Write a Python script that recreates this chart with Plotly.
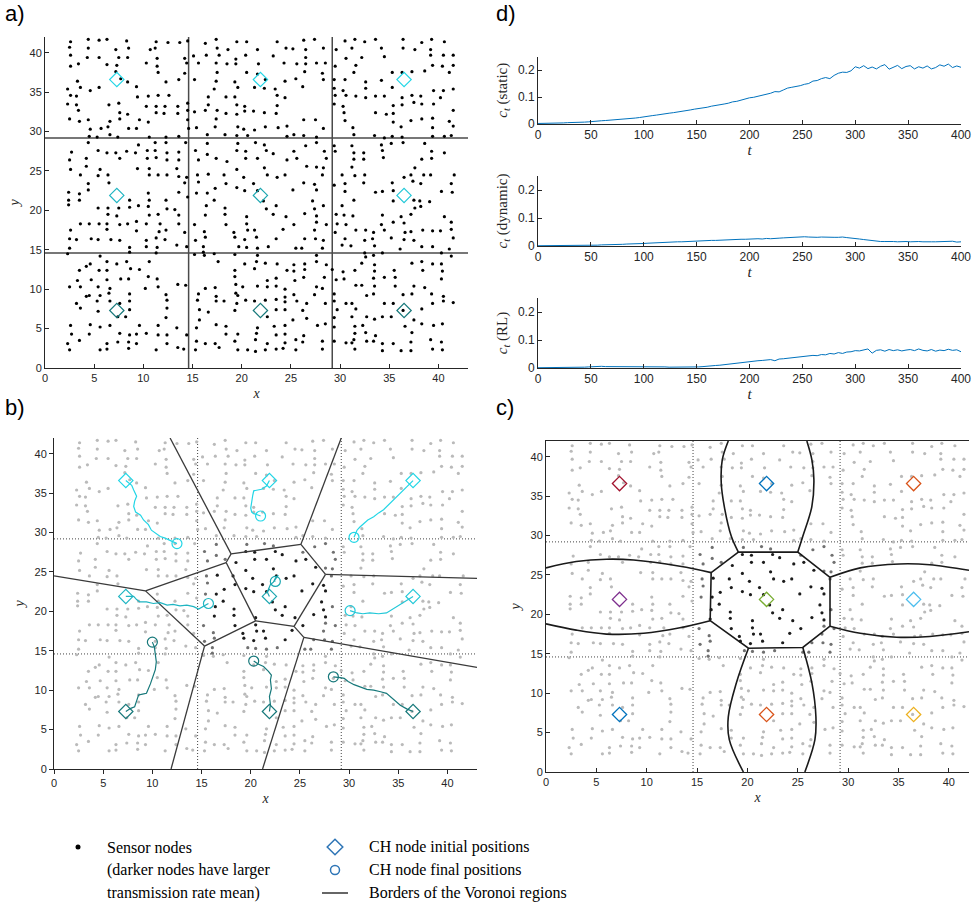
import plotly.graph_objects as go

# ---------------- data ----------------
nodes = [
(2.6,41.4),(2.5,40.7),(4.4,41.7),(4.4,40.6),(5.5,41.6),(6.3,41.7),(8.3,41.5),(8.5,40.6),(7.2,40.4),(10.7,40.4),(11.2,40.6),(11.3,41.4),(12.5,41.3),(13.7,41.3),(14.5,41.5),
(2.6,39.7),(4.3,39.4),(5.5,39.4),(7.5,39.4),(8.4,39.4),(14.2,39.3),(14.4,38.7),(3.4,38.6),(2.6,38.3),(6.3,38.5),(7.3,38.4),(10.3,38.7),(11.4,39.3),(11.4,38.3),
(7.2,37.6),(11.5,37.5),(14.2,37.4),(7.7,36.7),(8.4,36.3),(12.3,36.3),(13.6,36.6),(3.3,36.4),
(2.3,35.4),(3.6,35.6),(4.6,35.2),(5.5,35.6),(2.6,34.6),(3.2,34.5),(9.3,35.7),(9.4,34.4),(10.5,34.5),(11.5,34.6),(12.6,34.6),
(2.3,33.5),(3.2,33.4),(6.5,33.4),(7.5,33.6),(3.4,32.7),(7.6,32.4),(8.4,32.2),(10.3,33.2),(11.3,33.2),(12.2,33.2),(13.5,33.2),(14.5,33.6),(11.3,32.4),(12.1,32.3),(13.5,32.3),(14.5,32.7),
(2.5,31.6),(3.5,31.3),(4.4,31.5),(6.6,31.3),(7.6,31.6),(9.6,31.5),(10.5,31.2),(6.4,30.6),(4.6,30.3),(5.7,30.4),(8.5,30.4),(9.3,30.4),(14.5,31.5),(14.6,30.4),
(4.5,29.4),(5.3,29.3),(6.6,29.6),(7.4,29.3),(10.6,29.3),(12.3,29.3),(13.6,29.4),
(4.4,28.6),(9.5,28.3),(11.2,28.6),(12.3,28.6),(14.3,28.6),(2.7,27.4),(5.4,27.6),(6.3,27.3),(7.2,27.3),(8.3,27.5),(9.2,27.3),(10.4,27.6),(11.2,27.6),(12.4,27.3),(13.6,27.4),
(2.5,26.4),(4.2,26.6),(7.6,26.6),(10.4,26.6),(11.3,26.7),(12.4,26.4),(13.6,26.4),
(2.6,25.2),(4.2,25.6),(5.6,25.2),(9.4,25.3),(10.6,25.3),(13.4,25.3),(3.6,24.5),(5.4,24.4),(6.4,24.5),(10.6,24.5),(11.5,24.5),(12.4,24.5),(13.6,24.3),(14.4,24.2),
(6.5,23.5),(4.4,23.4),(14.2,23.5),(4.4,22.6),(2.4,22.3),(3.5,22.1),(10.5,22.2),(13.6,22.3),(14.5,21.7),
(16.3,41.2),(17.4,41.7),(17.5,40.6),(18.6,40.4),(19.5,41.4),(20.5,41.4),(15.1,39.6),(16.4,39.7),(17.7,39.7),(15.6,38.7),(17.4,38.7),(18.5,38.6),(19.4,39.2),(19.4,38.6),(20.4,39.7),(20.5,37.5),
(15.2,36.6),(17.4,36.4),(17.5,37.5),(19.3,36.3),(19.6,35.6),(17.2,35.4),(16.6,34.4),(18.4,34.4),(19.3,34.4),(16.6,33.4),(15.2,32.5),(16.3,32.7),(17.5,32.7),(18.4,32.3),(19.5,32.2),(20.3,33.2),(20.3,32.6),(19.5,33.4),
(17.4,31.6),(15.4,30.5),(17.3,30.6),(19.6,30.6),(20.2,30.3),(16.5,29.6),(18.3,29.6),(19.5,29.5),(20.6,29.5),
(16.5,28.5),(19.6,28.5),(15.3,27.6),(16.5,27.1),(17.4,26.6),(18.5,26.2),(19.5,27.6),(20.4,27.5),(20.4,26.6),(15.6,26.4),(19.5,25.2),(15.5,24.5),(16.6,24.6),(18.2,24.5),(18.4,23.4),(20.2,24.2),(15.6,23.6),(17.3,22.8),(15.4,22.2),(16.5,22.2),(19.5,22.9),(20.3,22.5),
(23.6,41.4),(26.3,41.6),(27.4,41.7),(21.6,40.4),(24.5,40.6),(25.2,40.5),(26.5,40.4),(28.3,40.6),(23.2,39.6),(26.5,39.4),(21.7,38.6),(24.3,38.7),(25.6,38.6),(26.5,38.6),(27.6,38.7),(28.5,38.7),(26.4,37.6),(28.2,37.4),(21.6,37.3),(22.4,36.6),(24.4,36.4),(25.5,36.7),(28.3,36.6),(21.3,35.6),(22.3,35.5),(23.4,35.4),(26.2,35.7),(23.6,34.6),(24.4,34.3),(23.6,33.3),(21.2,32.6),(22.3,32.4),(23.5,32.3),(26.3,31.5),(27.5,31.5),(22.4,30.6),(23.7,30.5),(24.6,30.7),(21.3,30.2),(28.3,30.4),(24.6,29.4),(25.3,29.6),(26.3,29.5),(27.6,29.3),
(30.5,41.5),(31.5,41.7),(32.5,41.4),(33.6,41.7),(36.4,41.7),(38.3,41.3),(39.3,41.7),(40.6,41.4),(29.6,40.4),(31.2,40.6),(34.2,40.6),(36.4,40.6),(37.6,40.4),(39.2,40.4),(30.6,39.3),(32.2,39.4),(34.5,39.5),(39.2,39.7),(40.5,39.7),(41.5,39.7),(31.6,38.4),(29.5,38.3),(39.4,38.4),(40.4,38.3),(41.5,38.4),(31.4,37.5),(35.3,37.5),(36.3,37.5),(37.3,37.6),(38.6,37.7),(41.1,37.5),(29.4,36.6),(30.5,36.6),(32.6,36.3),(34.2,36.5),(32.6,35.5),(30.3,35.2),(29.4,35.5),(35.3,35.6),(39.5,35.2),(40.5,35.2),(41.5,35.4),(29.5,34.6),(30.6,34.6),(31.6,34.5),(32.6,34.3),(33.6,34.5),(34.5,34.5),(36.3,34.3),(37.3,34.6),(38.2,34.5),(40.2,34.3),(29.4,33.5),(30.3,33.2),(35.4,33.3),(36.3,33.4),(37.5,33.7),(38.3,33.5),(39.5,33.5),(30.4,32.4),(33.6,32.4),(34.7,32.2),(35.4,32.3),(41.5,32.7),(30.5,31.4),(35.4,31.2),(37.2,31.4),(38.3,31.6),(39.4,31.7),(41.1,31.3),(31.3,30.5),(36.2,30.6),(39.4,30.5),(41.5,30.7),(31.4,29.6),(33.5,29.5),(34.5,29.2),(35.3,29.4),(36.3,29.3),(39.4,29.4),(40.6,29.4),(41.3,29.5),
(21.4,28.6),(22.3,28.3),(22.5,27.6),(23.2,27.2),(26.5,28.2),(27.6,28.6),(25.3,27.5),(28.4,27.5),(21.6,26.6),(24.6,26.4),(25.6,26.6),(28.6,26.6),(22.3,25.4),(26.6,25.6),(27.6,25.5),(28.3,25.4),(22.6,24.5),(23.6,24.2),(24.4,24.5),(28.2,24.5),(21.2,23.4),(26.3,23.5),(27.4,23.3),(25.2,22.6),(27.6,22.6),(21.6,22.5),
(29.4,28.2),(31.2,28.2),(31.4,27.3),(32.4,27.3),(34.2,28.3),(34.3,27.6),(35.2,28.5),(36.4,28.6),(38.6,28.5),(29.5,27.5),(31.4,26.5),(32.4,26.5),(34.4,26.7),(39.3,27.5),(40.6,27.3),(38.3,26.5),(39.3,26.6),(31.2,25.5),(37.6,25.4),(30.2,24.5),(31.5,24.4),(32.5,24.5),(36.5,24.2),(37.2,24.5),(38.5,24.5),(39.2,24.5),(41.6,24.5),(29.4,23.2),(30.5,23.4),(32.4,23.5),(35.3,23.5),(37.4,23.7),(38.2,23.4),(41.3,23.4),(30.5,22.4),(33.6,22.3),(34.3,22.4),(35.4,22.5),(40.3,22.4),(41.4,22.3),
(2.4,21.3),(3.5,21.3),(8.6,21.3),(10.6,21.3),(12.3,21.3),(2.4,20.7),(5.4,20.3),(6.4,20.3),(7.5,20.3),(8.6,20.4),(9.5,20.6),(10.5,20.5),(11.5,19.5),(12.4,20.2),(13.2,20.1),(13.6,19.4),(6.4,19.5),(7.3,19.3),(10.6,19.4),
(2.6,17.5),(3.6,18.3),(4.5,18.3),(5.5,18.3),(6.3,18.3),(7.6,18.2),(8.4,18.3),(9.3,18.6),(9.3,17.4),(10.3,18.3),(11.7,18.3),(13.6,18.3),(14.2,17.2),(6.3,17.6),(11.6,17.3),(12.3,17.5),
(2.5,16.4),(3.2,16.3),(4.7,16.4),(5.4,16.3),(6.7,16.3),(7.6,16.2),(10.3,16.2),(11.3,16.5),(12.2,16.3),(10.3,15.4),(11.4,15.3),(13.4,15.6),(14.4,15.4),(2.5,15.2),(2.3,14.5),(8.6,15.3),(8.6,14.7),(11.3,14.6),
(16.4,20.6),(16.3,19.4),(17.2,21.3),(18.3,20.3),(18.3,19.5),(18.4,18.2),(19.2,17.2),(19.3,16.6),(20.5,19.2),(20.5,18.3),(20.6,17.5),(20.3,16.3),(19.7,15.4),(20.5,15.3),(15.2,18.2),(16.2,17.3),(16.3,16.6),(15.3,16.2),(16.1,15.4),(16.1,14.7),
(17.2,14.5),(15.2,14.4),(16.2,14.3),(17.6,13.5),(19.3,14.4),(20.3,13.2),(19.3,12.4),(19.3,11.6),(19.4,10.6),(19.4,9.5),(19.6,9.2),(20.1,10.3),(16.3,10.1),(17.3,10.2),(17.4,9.1),(17.4,8.5),(15.6,9.4),(15.5,8.6),(15.7,7.4),(15.7,6.1),(16.6,7.1),(18.2,8.5),(19.3,7.3),(19.5,8.2),(20.4,8.6),
(15.4,5.1),(17.4,5.5),(18.4,5.3),(18.4,4.3),(15.4,3.4),(16.3,3.1),(17.7,2.6),(17.3,3.1),(19.3,3.4),(19.6,4.3),(19.6,2.3),(20.6,2.3),(15.3,2.3),
(5.6,14.2),(4.6,13.2),(6.3,13.5),(7.3,13.2),(8.3,13.5),(8.7,12.6),(10.6,13.5),(3.5,12.4),(4.2,12.9),(5.5,12.4),(6.3,12.4),(9.6,12.5),(10.5,11.6),(11.4,11.3),(3.3,11.1),(4.7,11.2),(6.3,11.2),(7.7,11.3),(8.5,11.3),
(2.5,10.3),(3.6,10.3),(5.4,10.3),(6.6,10.1),(6.5,9.5),(4.5,9.2),(5.6,9.2),(8.6,9.4),(10.2,10.1),(11.5,10.3),(12.3,9.3),(13.5,10.6),(14.3,10.5),(4.2,9.1),(3.2,8.2),(3.6,7.6),(5.3,8.5),(5.4,7.2),(6.6,8.5),(7.6,8.2),(8.6,8.5),(8.6,7.4),(8.2,6.5),(7.4,6.5),(12.4,8.6),(12.4,7.6),(12.3,6.4),
(2.6,5.4),(2.7,4.3),(4.6,5.5),(4.5,4.3),(5.6,5.2),(6.6,5.4),(7.6,4.4),(8.6,4.2),(9.3,4.3),(9.6,5.4),(10.3,4.4),(11.5,5.4),(11.5,4.2),(12.4,4.2),(13.4,5.1),(14.4,4.2),
(2.3,3.1),(2.5,2.3),(3.5,3.5),(5.6,2.3),(6.3,2.4),(6.3,3.1),(7.4,3.3),(8.5,2.5),(8.5,3.3),(9.3,3.1),(11.3,2.3),(12.4,3.1),(13.5,2.6),(14.1,2.4),
(22.2,21.2),(23.5,20.6),(22.5,20.2),(23.2,19.5),(24.5,19.2),(25.3,18.2),(26.4,19.6),(27.2,21.2),(27.4,20.2),(27.6,19.3),(27.6,18.5),(28.6,18.2),(28.3,20.6),(21.3,17.5),(21.5,16.6),(23.5,16.4),(24.2,17.6),(21.6,15.2),(22.7,15.4),(25.5,15.2),(26.1,15.2),(26.4,16.4),(27.4,17.5),(27.5,16.4),(28.3,16.2),(28.2,15.2),
(29.6,19.5),(30.4,19.4),(31.3,19.3),(30.2,20.6),(31.4,21.3),(29.7,18.3),(30.6,18.2),(29.5,17.2),(30.5,16.4),(31.6,17.5),(32.6,17.5),(33.4,17.2),(32.5,16.2),(33.3,16.4),(30.2,15.6),(31.1,15.5),(33.5,15.5),(34.3,19.4),(34.2,18.2),(34.5,17.5),(35.4,18.5),(36.2,19.2),(36.5,18.4),(37.2,19.5),(37.6,20.3),(38.2,20.5),(35.4,21.2),(37.5,21.3),(38.1,21.2),(40.6,19.2),(41.3,18.5),(41.3,17.6),(41.5,16.5),(39.1,21.1),(38.4,17.5),(39.4,17.4),(40.2,17.4),(35.2,16.5),(36.6,17.2),(37.2,17.3),(36.5,16.3),(37.5,16.2),(36.1,15.1),(38.3,15.4),(39.4,15.4),(41.1,15.1),(41.3,14.2),(32.5,14.6),(34.3,14.6),(40.3,14.6),
(21.6,14.3),(21.5,13.5),(22.4,13.3),(23.6,13.2),(25.3,13.1),(26.4,13.2),(27.6,14.3),(27.6,13.5),(28.6,13.1),(21.3,12.6),(24.6,12.4),(25.3,12.3),(26.4,12.5),(28.4,11.5),(29.2,12.5),(22.6,11.1),(23.5,11.4),(25.4,11.1),(26.3,11.5),(21.6,10.4),(22.6,10.3),(23.5,10.4),(24.4,10.0),(27.6,10.3),(28.2,10.1),
(21.3,8.5),(22.4,8.6),(23.5,8.7),(24.4,9.0),(24.4,8.4),(25.3,9.3),(25.6,8.5),(27.4,9.3),(26.6,8.2),(28.5,8.2),(23.5,7.4),(24.4,7.4),(26.2,7.3),(22.6,6.5),(25.2,6.1),(26.6,6.3),(21.6,5.1),(23.3,5.3),(24.4,5.4),(27.7,5.4),(28.5,5.6),(21.5,4.4),(23.5,4.2),(24.4,4.3),(26.3,4.1),(21.4,3.6),(22.6,3.1),(24.4,3.2),(25.5,3.6),(26.2,3.3),(28.2,3.4),(28.2,2.4),(21.4,2.1),(22.4,2.3),(23.5,2.4),(24.2,2.5),(25.5,2.3),
(29.6,11.2),(29.4,9.4),(29.4,8.5),(29.7,7.4),(30.4,11.3),(30.3,12.2),(31.5,12.4),(32.2,13.3),(32.6,14.1),(33.4,14.3),(33.5,13.1),(33.5,12.3),(33.4,11.4),(33.5,10.4),(33.4,9.4),(32.7,9.2),(32.2,10.5),(31.6,10.5),(30.6,8.2),(31.2,8.2),(31.6,7.5),(31.2,6.5),(32.7,6.5),(33.5,6.2),(34.3,6.5),(35.2,6.5),(34.5,8.2),(35.4,8.2),(34.5,11.5),(35.5,12.4),(35.6,11.5),(35.6,10.4),(36.4,9.3),
(37.3,13.3),(38.3,13.5),(38.4,12.4),(39.4,13.2),(40.3,13.2),(40.4,12.3),(40.3,11.3),(40.5,9.1),(40.5,8.5),(39.3,9.4),(39.4,8.2),(38.3,7.5),(37.5,10.4),(37.3,9.4),(38.6,10.2),(36.4,7.3),(36.6,5.3),(37.3,4.5),(37.5,6.1),(38.3,5.6),(39.5,5.4),(40.4,5.6),
(32.3,5.4),(31.5,5.3),(31.5,4.4),(32.6,4.5),(33.6,4.1),(31.4,3.6),(30.6,3.2),(31.2,3.2),(32.7,3.4),(33.4,3.4),(34.3,3.1),(35.4,3.1),(37.2,3.3),(39.2,3.6),(40.3,3.3),(29.4,5.2),(29.4,3.4),(31.5,2.4),(34.3,2.2),(36.2,2.2),(37.2,2.2),(39.4,2.4),(40.4,2.3),(41.5,8.3),(29.4,6.4),
]
node_x = [p[0] for p in nodes]
node_y = [p[1] for p in nodes]

region_borders = [14.6, 29.2]
ch_x = [7.3, 21.9, 36.5, 7.3, 21.9, 36.5, 7.3, 21.9, 36.5]
ch_y = [36.6, 36.6, 36.6, 21.9, 21.9, 21.9, 7.3, 7.3, 7.3]
ch_colors_ab = ["#22d6e6", "#22d6e6", "#22d6e6", "#1fb5c2", "#1aa6b0", "#22c8d8", "#16787a", "#16787a", "#16787a"]
ch_colors_c = ["#A2142F", "#0072BD", "#D95319", "#7E2F8E", "#77AC30", "#4DBEEE", "#0072BD", "#D95319", "#EDB120"]

traj_x = [
    [7.3, 7.9, 8.1, 8.4, 8.2, 8.1, 8.3, 8.8, 9.1, 9.6, 9.9, 10.4, 10.8, 11.3, 11.6, 12.5],
    [21.9, 21.6, 21.1, 20.6, 20.3, 20.2, 20.1, 20.0, 20.1, 20.3, 20.6, 21.0],
    [36.5, 36.0, 35.5, 35.0, 34.5, 34.1, 33.5, 33.0, 32.5, 31.9, 31.5, 31.1, 30.8, 30.5],
    [7.3, 8.1, 8.4, 8.7, 9.4, 10.1, 10.8, 11.5, 12.1, 12.8, 13.5, 14.2, 14.7, 15.2, 15.7],
    [21.9, 21.7, 21.8, 22.0, 22.3, 22.5, 22.8, 22.6, 22.4, 22.5],
    [36.5, 36.0, 35.5, 35.0, 34.5, 33.8, 33.0, 32.1, 31.4, 30.8, 30.1],
    [7.3, 7.8, 8.2, 8.4, 8.6, 9.0, 9.4, 9.8, 10.3, 10.4, 10.3, 10.2, 10.0],
    [21.9, 22.0, 21.9, 22.1, 22.0, 22.1, 21.8, 21.5, 21.3, 20.8, 20.3],
    [36.5, 35.9, 35.2, 34.5, 33.8, 33.2, 32.5, 31.8, 31.1, 30.5, 29.9, 29.5, 29.1, 28.4],
]
traj_y = [
    [36.6, 36.0, 35.4, 34.6, 34.0, 33.3, 32.6, 32.2, 31.6, 31.0, 30.3, 29.9, 29.5, 29.3, 29.1, 28.6],
    [36.6, 35.9, 35.5, 35.4, 35.3, 34.7, 34.1, 33.1, 32.6, 32.4, 32.3, 32.1],
    [36.6, 36.0, 35.4, 34.8, 34.1, 33.6, 32.9, 32.5, 32.0, 31.6, 31.2, 30.7, 30.3, 29.4],
    [21.9, 21.9, 21.5, 21.2, 21.2, 21.0, 21.1, 20.8, 20.9, 20.7, 20.8, 20.6, 20.3, 20.6, 21.0],
    [21.9, 22.4, 22.8, 23.4, 23.7, 24.2, 24.6, 24.3, 23.9, 23.8],
    [21.9, 21.5, 21.2, 20.8, 20.4, 19.8, 19.7, 19.8, 19.7, 19.8, 20.1],
    [7.3, 7.7, 7.9, 8.8, 9.4, 9.5, 9.6, 10.8, 12.6, 13.6, 14.7, 15.5, 16.1],
    [7.3, 8.2, 9.2, 10.2, 11.3, 11.9, 12.4, 12.7, 13.0, 13.3, 13.7],
    [7.3, 7.6, 8.1, 8.8, 9.6, 9.8, 10.0, 10.1, 10.4, 10.7, 11.1, 11.5, 11.6, 11.7],
]

voronoi_b = [
    [11.8, 42.0, 18.0, 27.3], [18.0, 27.3, 25.1, 28.5], [25.1, 28.5, 29.2, 42.0],
    [25.1, 28.5, 27.6, 24.7], [27.6, 24.7, 43.0, 24.2], [27.6, 24.7, 24.4, 18.1],
    [24.4, 18.1, 25.4, 16.7], [25.4, 16.7, 43.0, 12.9], [25.4, 16.7, 21.2, 0.0],
    [24.4, 18.1, 20.5, 18.8], [20.5, 18.8, 17.5, 26.2], [17.5, 26.2, 18.0, 27.3],
    [17.5, 26.2, 9.3, 22.6], [9.3, 22.6, 0.0, 24.5], [9.3, 22.6, 15.3, 15.6],
    [15.3, 15.6, 20.5, 18.8], [15.3, 15.6, 11.9, 0.0],
]

octagon_x = [19.1, 25.0, 28.2, 28.2, 25.5, 20.1, 16.3, 16.4, 19.1]
octagon_y = [27.9, 27.9, 24.7, 18.5, 15.8, 15.7, 19.2, 25.3, 27.9]
curves_x = [
    [19.1, 18.4, 17.7, 17.4, 17.5, 18.1],
    [25.0, 25.5, 26.4, 26.6, 26.4, 25.9],
    [20.1, 18.9, 18.1, 18.2, 19.6],
    [25.5, 26.4, 26.8, 26.7, 25.7],
    [16.4, 13.3, 8.7, 6.0, 3.0, 0.0],
    [16.3, 13.3, 9.7, 6.0, 3.0, 0.0],
    [28.2, 31.2, 35.1, 38.1, 42.0],
    [28.2, 31.2, 34.8, 38.1, 42.0],
]
curves_y = [
    [27.9, 29.9, 33.7, 36.7, 39.6, 42.0],
    [27.9, 29.9, 33.7, 37.1, 39.6, 42.0],
    [15.7, 11.3, 7.0, 4.1, 0.0],
    [15.8, 11.3, 7.0, 4.1, 0.0],
    [25.3, 26.1, 26.9, 27.0, 26.7, 25.9],
    [19.2, 18.3, 17.6, 17.5, 18.0, 18.8],
    [24.7, 25.9, 26.4, 26.3, 25.6],
    [18.5, 17.6, 17.1, 17.2, 17.8],
]

t_values = list(range(0, 401, 4))
c_static = [
    .002, .002, .003, .003, .003, .004, .004, .005, .005, .006, .007, .007, .008, .010, .010, .012, .013, .014, .015, .016,
    .018, .019, .020, .022, .024, .027, .028, .031, .033, .036, .037, .040, .042, .044, .046, .049, .052, .055, .057, .059,
    .062, .066, .068, .070, .074, .077, .082, .084, .088, .094, .097, .099, .103, .105, .110, .114, .120, .119, .126, .133,
    .136, .138, .142, .147, .150, .159, .161, .168, .172, .168, .180, .188, .192, .191, .197, .212, .207, .216, .205, .211,
    .204, .214, .220, .203, .210, .217, .205, .213, .216, .204, .212, .207, .215, .204, .209, .219, .214, .222, .209, .215, .210]
c_dynamic = [
    .001, .001, .001, .001, .001, .001, .001, .002, .002, .002, .002, .002, .003, .003, .003, .004, .004, .005, .005, .006,
    .006, .007, .007, .008, .009, .009, .010, .011, .012, .012, .013, .014, .014, .015, .015, .016, .016, .017, .017, .018,
    .019, .020, .020, .021, .021, .022, .022, .023, .024, .024, .025, .024, .026, .025, .027, .026, .028, .028, .029, .030,
    .031, .032, .034, .033, .032, .031, .031, .032, .031, .032, .031, .031, .032, .030, .029, .028, .025, .023, .021, .019,
    .017, .016, .016, .017, .016, .015, .016, .016, .015, .016, .016, .015, .016, .015, .015, .016, .015, .016, .017, .014, .015]
c_rl = [
    .001, .001, .001, .001, .001, .001, .001, .002, .002, .002, .003, .003, .004, .005, .005, .006, .005, .005, .004, .004,
    .004, .004, .004, .005, .005, .006, .005, .005, .004, .004, .004, .003, .003, .003, .003, .003, .002, .002, .004, .005,
    .007, .008, .009, .010, .012, .013, .014, .016, .018, .020, .022, .024, .026, .027, .029, .030, .026, .032, .033, .035,
    .037, .038, .040, .041, .043, .045, .044, .048, .047, .052, .050, .055, .052, .057, .058, .062, .061, .064, .068, .053,
    .063, .065, .060, .066, .062, .065, .061, .064, .066, .062, .068, .063, .061, .066, .060, .064, .062, .067, .063, .065, .058]

# ---------------- styling helpers ----------------
AX_COL = "#262626"
TICKFONT = dict(family="Liberation Sans, Arial, sans-serif", size=11, color="#262626")
TICKFONT_D = dict(family="Liberation Sans, Arial, sans-serif", size=12, color="#262626")
TITLEFONT = dict(family="Liberation Serif, Times New Roman, serif", size=14, color="#262626")
TITLEFONT_D = dict(family="Liberation Serif, Times New Roman, serif", size=15, color="#262626")


def shade(x, y):
    d = ((x - 21.9) ** 2 + (y - 21.9) ** 2) ** 0.5
    if d < 6.3:
        return "#1c1c1c"
    if 14.6 <= x <= 29.2 and 14.6 <= y <= 29.2:
        return "#707070"
    return "#bababa"


node_shades = [shade(x, y) for x, y in nodes]
DOT = "1px,2px"

fig = go.Figure()

# ---------- panel a ----------
for b in region_borders:
    fig.add_trace(go.Scatter(x=[0, 43], y=[b, b], mode="lines", line=dict(color="#4a4a4a", width=1.5),
                             xaxis="x", yaxis="y", showlegend=False, hoverinfo="skip"))
    fig.add_trace(go.Scatter(x=[b, b], y=[0, 42], mode="lines", line=dict(color="#4a4a4a", width=1.5),
                             xaxis="x", yaxis="y", showlegend=False, hoverinfo="skip"))
fig.add_trace(go.Scatter(x=node_x, y=node_y, mode="markers", marker=dict(color="black", size=3.2),
                         xaxis="x", yaxis="y", showlegend=False))
fig.add_trace(go.Scatter(x=ch_x, y=ch_y, mode="markers",
                         marker=dict(symbol="diamond-open", size=11, color=ch_colors_ab, line=dict(width=1.2)),
                         xaxis="x", yaxis="y", showlegend=False))

# ---------- panel d ----------
for i, (series, name) in enumerate([(c_static, "static"), (c_dynamic, "dynamic"), (c_rl, "RL")]):
    ax = str(i + 2)
    fig.add_trace(go.Scatter(x=t_values, y=series, mode="lines", line=dict(color="#0072BD", width=1),
                             xaxis="x" + ax, yaxis="y" + ax, showlegend=False, name=name))

# ---------- panel b ----------
for b in region_borders:
    fig.add_trace(go.Scatter(x=[0, 43], y=[b, b], mode="lines", line=dict(color="#444", width=1, dash=DOT),
                             xaxis="x5", yaxis="y5", showlegend=False, hoverinfo="skip"))
    fig.add_trace(go.Scatter(x=[b, b], y=[0, 42], mode="lines", line=dict(color="#444", width=1, dash=DOT),
                             xaxis="x5", yaxis="y5", showlegend=False, hoverinfo="skip"))
fig.add_trace(go.Scatter(x=node_x, y=node_y, mode="markers", marker=dict(color=node_shades, size=3.2),
                         xaxis="x5", yaxis="y5", showlegend=False))
vx, vy = [], []
for x0, y0, x1, y1 in voronoi_b:
    vx += [x0, x1, None]
    vy += [y0, y1, None]
fig.add_trace(go.Scatter(x=vx, y=vy, mode="lines", line=dict(color="#3a3a3a", width=1.3),
                         xaxis="x5", yaxis="y5", showlegend=False, hoverinfo="skip"))
for k in range(9):
    fig.add_trace(go.Scatter(x=traj_x[k], y=traj_y[k], mode="lines", line=dict(color=ch_colors_ab[k], width=1.2),
                             xaxis="x5", yaxis="y5", showlegend=False))
    fig.add_trace(go.Scatter(x=[traj_x[k][0]], y=[traj_y[k][0]], mode="markers",
                             marker=dict(symbol="diamond-open", size=11, color=ch_colors_ab[k], line=dict(width=1.2)),
                             xaxis="x5", yaxis="y5", showlegend=False))
    fig.add_trace(go.Scatter(x=[traj_x[k][-1]], y=[traj_y[k][-1]], mode="markers",
                             marker=dict(symbol="circle-open", size=10, color=ch_colors_ab[k], line=dict(width=1.2)),
                             xaxis="x5", yaxis="y5", showlegend=False))

# ---------- panel c ----------
for b in region_borders:
    fig.add_trace(go.Scatter(x=[0, 42], y=[b, b], mode="lines", line=dict(color="#444", width=1, dash=DOT),
                             xaxis="x6", yaxis="y6", showlegend=False, hoverinfo="skip"))
    fig.add_trace(go.Scatter(x=[b, b], y=[0, 42], mode="lines", line=dict(color="#444", width=1, dash=DOT),
                             xaxis="x6", yaxis="y6", showlegend=False, hoverinfo="skip"))
fig.add_trace(go.Scatter(x=node_x, y=node_y, mode="markers", marker=dict(color=node_shades, size=3.2),
                         xaxis="x6", yaxis="y6", showlegend=False))
fig.add_trace(go.Scatter(x=octagon_x, y=octagon_y, mode="lines", line=dict(color="#1a1a1a", width=1.6),
                         xaxis="x6", yaxis="y6", showlegend=False, hoverinfo="skip"))
for cx, cy in zip(curves_x, curves_y):
    fig.add_trace(go.Scatter(x=cx, y=cy, mode="lines", line=dict(color="#1a1a1a", width=1.6, shape="spline"),
                             xaxis="x6", yaxis="y6", showlegend=False, hoverinfo="skip"))
fig.add_trace(go.Scatter(x=ch_x, y=ch_y, mode="markers",
                         marker=dict(symbol="diamond-open", size=11, color=ch_colors_c, line=dict(width=1.3)),
                         xaxis="x6", yaxis="y6", showlegend=False))

# ---------- bottom legend (drawn in its own axis) ----------
fig.add_trace(go.Scatter(x=[78], y=[63], mode="markers", marker=dict(color="black", size=5),
                         xaxis="x7", yaxis="y7", showlegend=False, hoverinfo="skip"))
fig.add_trace(go.Scatter(x=[335], y=[63], mode="markers",
                         marker=dict(symbol="diamond-open", size=12, color="#2e75b6", line=dict(width=1.5)),
                         xaxis="x7", yaxis="y7", showlegend=False, hoverinfo="skip"))
fig.add_trace(go.Scatter(x=[335], y=[40], mode="markers",
                         marker=dict(symbol="circle-open", size=9, color="#2e75b6", line=dict(width=1.5)),
                         xaxis="x7", yaxis="y7", showlegend=False, hoverinfo="skip"))
fig.add_trace(go.Scatter(x=[322, 348], y=[17, 17], mode="lines", line=dict(color="black", width=1.2),
                         xaxis="x7", yaxis="y7", showlegend=False, hoverinfo="skip"))

legend_font = dict(family="Liberation Serif, Times New Roman, serif", size=16, color="black")
annotations = []
for txt, xx, yy in [("Sensor nodes", 105, 63), ("(darker nodes have larger", 105, 40),
                    ("transmission rate mean)", 105, 17), ("CH node initial positions", 367, 63),
                    ("CH node final positions", 367, 40), ("Borders of the Voronoi regions", 367, 17)]:
    annotations.append(dict(text=txt, x=xx, y=yy, xref="x7", yref="y7", xanchor="left", yanchor="middle",
                            showarrow=False, font=legend_font))

label_font = dict(family="Liberation Sans, Arial, sans-serif", size=22, color="black")
for txt, px, py in [("a)", 3, 14), ("d)", 494, 14), ("b)", 3, 408), ("c)", 494, 408)]:
    annotations.append(dict(text=txt, x=px / 975, y=1 - py / 910, xref="paper", yref="paper",
                            xanchor="left", yanchor="middle", showarrow=False, font=label_font))


def spatial_axes(domx, domy, xr, anchor_x, anchor_y, ticks, mirror=False):
    xa = dict(domain=domx, range=xr, anchor=anchor_y, showgrid=False, zeroline=False, showline=True,
              linecolor=AX_COL, linewidth=1, ticks=ticks, ticklen=4, tickcolor=AX_COL, automargin=False,
              tickvals=[0, 5, 10, 15, 20, 25, 30, 35, 40], tickfont=TICKFONT,
              title=dict(text="<i>x</i>", font=TITLEFONT, standoff=4), mirror=mirror)
    ya = dict(domain=domy, range=[0, 42], anchor=anchor_x, showgrid=False, zeroline=False, showline=True,
              linecolor=AX_COL, linewidth=1, ticks=ticks, ticklen=4, tickcolor=AX_COL, automargin=False,
              tickvals=[0, 5, 10, 15, 20, 25, 30, 35, 40], tickfont=TICKFONT,
              title=dict(text="<i>y</i>", font=TITLEFONT, standoff=6))
    return xa, ya


xa1, ya1 = spatial_axes([45 / 975, 468 / 975], [1 - 368 / 910, 1 - 37 / 910], [0, 43], "x", "y", "inside")
xa5, ya5 = spatial_axes([54 / 975, 477 / 975], [1 - 769 / 910, 1 - 438 / 910], [0, 43], "x5", "y5", "outside")
xa6, ya6 = spatial_axes([546 / 975, 969 / 975], [1 - 772 / 910, 1 - 441 / 910], [0, 42], "x6", "y6", "inside",
                        mirror=True)

layout = dict(
    width=975, height=910, margin=dict(l=0, r=0, t=0, b=0, autoexpand=False),
    paper_bgcolor="white", plot_bgcolor="rgba(0,0,0,0)",
    showlegend=False, annotations=annotations,
    xaxis=xa1, yaxis=ya1, xaxis5=xa5, yaxis5=ya5, xaxis6=xa6, yaxis6=ya6,
    xaxis7=dict(domain=[0, 1], range=[0, 975], anchor="y7", visible=False, fixedrange=True, automargin=False),
    yaxis7=dict(domain=[0, 91 / 910], range=[0, 91], anchor="x7", visible=False, fixedrange=True, automargin=False),
)

d_rows = [(124, 56.5, "static"), (246, 176, "dynamic"), (368, 298, "RL")]
for i, (p0, p1, nm) in enumerate(d_rows):
    k = str(i + 2)
    layout["xaxis" + k] = dict(domain=[538 / 975, 961 / 975], range=[0, 400], anchor="y" + k, showgrid=False,
                               zeroline=False, showline=True, linecolor=AX_COL, linewidth=1, ticks="inside",
                               ticklen=4, tickcolor=AX_COL, tickvals=list(range(0, 401, 50)), tickfont=TICKFONT_D,
                               automargin=False,
                               title=dict(text="<i>t</i>", font=TITLEFONT_D, standoff=2))
    layout["yaxis" + k] = dict(domain=[1 - p0 / 910, 1 - p1 / 910], range=[0, 0.25], anchor="x" + k,
                               showgrid=False, zeroline=False, showline=True, linecolor=AX_COL, linewidth=1,
                               ticks="inside", ticklen=4, tickcolor=AX_COL, tickvals=[0, 0.1, 0.2],
                               ticktext=["0", "0.1", "0.2"], tickfont=TICKFONT_D, automargin=False,
                               title=dict(text="<i>c</i><sub><i>t</i></sub> (" + nm + ")", font=TITLEFONT_D,
                                          standoff=6))

fig.update_layout(**layout)
fig.write_html("out.html", config={"displayModeBar": False},
               post_script="document.body.style.margin='0';document.body.style.overflow='hidden';")
